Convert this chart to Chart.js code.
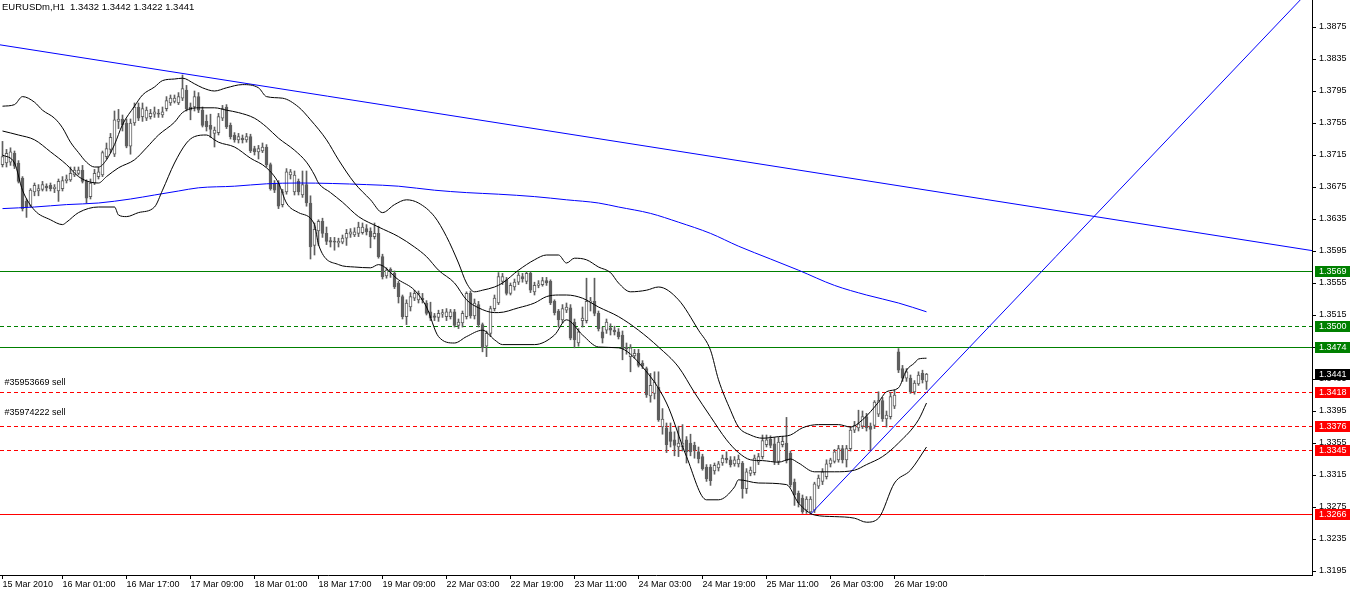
<!DOCTYPE html>
<html>
<head>
<meta charset="utf-8">
<title>EURUSDm,H1</title>
<script src="https://cdn.jsdelivr.net/npm/chart.js@4.4.0/dist/chart.umd.min.js"></script>
<style>
  html, body { margin: 0; padding: 0; background: #fff; overflow: hidden; }
  canvas { display: block; }
</style>
</head>
<body>
<canvas id="priceChart" width="1353" height="595"></canvas>
<script>
// EURUSDm H1 candles, bar index 0 = first visible hour
var symbolTitle = 'EURUSDm,H1  1.3432 1.3442 1.3422 1.3441';

var opens = [
  1.3703,1.3705,1.3706,1.3717,1.3705,1.3686,1.3657,1.3652,1.3669,1.3670,
  1.3672,1.3676,1.3677,1.3673,1.3670,1.3673,1.3683,1.3684,1.3690,1.3692,
  1.3696,1.3682,1.3663,1.3680,1.3688,1.3690,1.3713,1.3722,1.3716,1.3757,
  1.3760,1.3755,1.3726,1.3755,1.3775,1.3763,1.3761,1.3763,1.3766,1.3767,
  1.3765,1.3773,1.3780,1.3782,1.3780,1.3786,1.3796,1.3775,1.3775,1.3788,
  1.3771,1.3757,1.3752,1.3742,1.3743,1.3761,1.3775,1.3752,1.3740,1.3734,
  1.3736,1.3734,1.3738,1.3723,1.3719,1.3720,1.3725,1.3703,1.3680,1.3680,
  1.3653,1.3669,1.3690,1.3669,1.3682,1.3665,1.3678,1.3655,1.3602,1.3620,
  1.3632,1.3617,1.3608,1.3607,1.3605,1.3606,1.3611,1.3616,1.3615,1.3617,
  1.3618,1.3623,1.3620,1.3613,1.3617,1.3588,1.3564,1.3572,1.3567,1.3555,
  1.3538,1.3513,1.3525,1.3536,1.3534,1.3536,1.3530,1.3519,1.3514,1.3512,
  1.3516,1.3513,1.3513,1.3519,1.3502,1.3505,1.3513,1.3542,1.3514,1.3528,
  1.3503,1.3476,1.3492,1.3523,1.3530,1.3557,1.3559,1.3542,1.3550,1.3556,
  1.3563,1.3557,1.3567,1.3544,1.3552,1.3553,1.3558,1.3557,1.3532,1.3520,
  1.3509,1.3521,1.3524,1.3506,1.3480,1.3508,1.3508,1.3531,1.3532,1.3517,
  1.3494,1.3496,1.3499,1.3496,1.3494,1.3490,1.3475,1.3463,1.3464,1.3467,
  1.3455,1.3448,1.3414,1.3417,1.3425,1.3375,1.3374,1.3369,1.3359,1.3350,
  1.3350,1.3359,1.3355,1.3352,1.3344,1.3338,1.3325,1.3325,1.3320,1.3324,
  1.3330,1.3336,1.3334,1.3329,1.3329,1.3330,1.3298,1.3317,1.3318,1.3331,
  1.3338,1.3353,1.3360,1.3354,1.3332,1.3353,1.3355,1.3342,1.3306,1.3292,
  1.3286,1.3271,1.3269,1.3271,1.3301,1.3307,1.3313,1.3329,1.3332,1.3334,
  1.3348,1.3334,1.3348,1.3371,1.3374,1.3376,1.3388,1.3376,1.3377,1.3391,
  1.3408,1.3385,1.3388,1.3401,1.3469,1.3448,1.3436,1.3436,1.3419,1.3429,
  1.3442,1.3432
];
var highs = [
  1.3732,1.3722,1.3724,1.3720,1.3708,1.3688,1.3660,1.3673,1.3680,1.3678,
  1.3682,1.3679,1.3680,1.3678,1.3685,1.3688,1.3690,1.3700,1.3700,1.3700,
  1.3702,1.3684,1.3685,1.3697,1.3700,1.3720,1.3730,1.3742,1.3770,1.3772,
  1.3765,1.3760,1.3760,1.3780,1.3780,1.3780,1.3775,1.3772,1.3775,1.3772,
  1.3775,1.3788,1.3790,1.3790,1.3793,1.3815,1.3802,1.3780,1.3795,1.3793,
  1.3775,1.3765,1.3766,1.3750,1.3767,1.3777,1.3778,1.3755,1.3743,1.3742,
  1.3740,1.3742,1.3741,1.3726,1.3727,1.3730,1.3728,1.3705,1.3683,1.3683,
  1.3672,1.3698,1.3697,1.3695,1.3685,1.3695,1.3695,1.3664,1.3630,1.3634,
  1.3636,1.3625,1.3612,1.3612,1.3611,1.3615,1.3622,1.3623,1.3624,1.3631,
  1.3630,1.3628,1.3624,1.3630,1.3626,1.3591,1.3574,1.3574,1.3570,1.3557,
  1.3540,1.3534,1.3543,1.3546,1.3545,1.3542,1.3533,1.3531,1.3517,1.3521,
  1.3522,1.3523,1.3522,1.3522,1.3510,1.3520,1.3544,1.3545,1.3535,1.3532,
  1.3505,1.3495,1.3526,1.3540,1.3568,1.3567,1.3562,1.3555,1.3560,1.3568,
  1.3567,1.3569,1.3569,1.3556,1.3558,1.3562,1.3562,1.3559,1.3534,1.3522,
  1.3528,1.3530,1.3528,1.3510,1.3498,1.3525,1.3561,1.3537,1.3561,1.3520,
  1.3500,1.3510,1.3504,1.3501,1.3498,1.3495,1.3480,1.3478,1.3472,1.3472,
  1.3458,1.3450,1.3442,1.3444,1.3444,1.3398,1.3380,1.3380,1.3369,1.3376,
  1.3378,1.3363,1.3366,1.3356,1.3350,1.3341,1.3328,1.3328,1.3330,1.3332,
  1.3340,1.3344,1.3338,1.3338,1.3340,1.3332,1.3323,1.3325,1.3340,1.3342,
  1.3365,1.3365,1.3364,1.3362,1.3362,1.3363,1.3387,1.3345,1.3310,1.3295,
  1.3290,1.3288,1.3288,1.3306,1.3315,1.3323,1.3334,1.3336,1.3347,1.3352,
  1.3352,1.3352,1.3375,1.3382,1.3396,1.3395,1.3392,1.3380,1.3408,1.3419,
  1.3412,1.3395,1.3418,1.3421,1.3473,1.3452,1.3448,1.3440,1.3433,1.3444,
  1.3446,1.3442
];
var lows = [
  1.3700,1.3700,1.3702,1.3698,1.3680,1.3645,1.3637,1.3650,1.3664,1.3664,
  1.3670,1.3670,1.3670,1.3668,1.3657,1.3670,1.3680,1.3682,1.3688,1.3690,
  1.3680,1.3655,1.3660,1.3678,1.3685,1.3688,1.3710,1.3718,1.3713,1.3748,
  1.3745,1.3724,1.3716,1.3752,1.3758,1.3757,1.3758,1.3760,1.3762,1.3762,
  1.3762,1.3770,1.3777,1.3780,1.3778,1.3783,1.3770,1.3759,1.3770,1.3768,
  1.3750,1.3745,1.3737,1.3725,1.3740,1.3758,1.3748,1.3735,1.3731,1.3730,
  1.3730,1.3731,1.3718,1.3715,1.3710,1.3718,1.3700,1.3671,1.3668,1.3648,
  1.3650,1.3666,1.3685,1.3665,1.3665,1.3662,1.3651,1.3585,1.3590,1.3602,
  1.3612,1.3603,1.3600,1.3596,1.3600,1.3604,1.3602,1.3612,1.3613,1.3613,
  1.3616,1.3615,1.3599,1.3610,1.3586,1.3560,1.3561,1.3562,1.3548,1.3530,
  1.3510,1.3503,1.3520,1.3533,1.3530,1.3530,1.3515,1.3508,1.3508,1.3507,
  1.3512,1.3508,1.3510,1.3500,1.3498,1.3500,1.3510,1.3511,1.3510,1.3500,
  1.3469,1.3463,1.3488,1.3520,1.3528,1.3553,1.3540,1.3540,1.3546,1.3553,
  1.3556,1.3554,1.3543,1.3540,1.3549,1.3551,1.3552,1.3528,1.3515,1.3500,
  1.3505,1.3518,1.3484,1.3474,1.3476,1.3500,1.3505,1.3520,1.3514,1.3495,
  1.3480,1.3492,1.3490,1.3490,1.3485,1.3459,1.3466,1.3444,1.3461,1.3450,
  1.3448,1.3412,1.3406,1.3410,1.3382,1.3366,1.3343,1.3350,1.3339,1.3338,
  1.3345,1.3330,1.3339,1.3336,1.3330,1.3321,1.3307,1.3302,1.3316,1.3320,
  1.3327,1.3330,1.3325,1.3326,1.3325,1.3286,1.3292,1.3314,1.3315,1.3328,
  1.3335,1.3350,1.3349,1.3328,1.3328,1.3350,1.3330,1.3300,1.3277,1.3275,
  1.3267,1.3267,1.3266,1.3268,1.3298,1.3303,1.3310,1.3325,1.3330,1.3331,
  1.3330,1.3325,1.3345,1.3368,1.3370,1.3373,1.3370,1.3346,1.3373,1.3388,
  1.3382,1.3375,1.3385,1.3398,1.3443,1.3432,1.3432,1.3417,1.3416,1.3427,
  1.3430,1.3422
];
var closes = [
  1.3713,1.3717,1.3719,1.3701,1.3682,1.3648,1.3650,1.3671,1.3677,1.3673,
  1.3678,1.3674,1.3673,1.3675,1.3682,1.3683,1.3685,1.3692,1.3696,1.3696,
  1.3682,1.3661,1.3680,1.3692,1.3694,1.3718,1.3723,1.3737,1.3759,1.3760,
  1.3753,1.3726,1.3755,1.3775,1.3761,1.3773,1.3771,1.3767,1.3769,1.3766,
  1.3769,1.3783,1.3786,1.3786,1.3788,1.3798,1.3773,1.3771,1.3788,1.3771,
  1.3752,1.3750,1.3747,1.3746,1.3763,1.3773,1.3750,1.3738,1.3734,1.3738,
  1.3734,1.3738,1.3720,1.3719,1.3723,1.3725,1.3703,1.3673,1.3671,1.3651,
  1.3669,1.3694,1.3694,1.3690,1.3669,1.3678,1.3655,1.3600,1.3622,1.3632,
  1.3617,1.3607,1.3606,1.3606,1.3607,1.3611,1.3617,1.3619,1.3619,1.3625,
  1.3625,1.3619,1.3613,1.3617,1.3588,1.3563,1.3571,1.3569,1.3550,1.3538,
  1.3513,1.3530,1.3538,1.3542,1.3542,1.3534,1.3517,1.3511,1.3512,1.3517,
  1.3518,1.3519,1.3519,1.3502,1.3506,1.3517,1.3542,1.3514,1.3530,1.3503,
  1.3474,1.3492,1.3523,1.3536,1.3563,1.3563,1.3542,1.3552,1.3556,1.3565,
  1.3560,1.3567,1.3546,1.3552,1.3554,1.3558,1.3555,1.3530,1.3518,1.3509,
  1.3523,1.3525,1.3486,1.3484,1.3494,1.3511,1.3532,1.3532,1.3517,1.3498,
  1.3486,1.3506,1.3496,1.3494,1.3488,1.3473,1.3473,1.3474,1.3467,1.3452,
  1.3451,1.3415,1.3427,1.3431,1.3384,1.3385,1.3353,1.3357,1.3352,1.3355,
  1.3355,1.3344,1.3344,1.3346,1.3335,1.3323,1.3310,1.3308,1.3327,1.3329,
  1.3336,1.3334,1.3328,1.3334,1.3335,1.3298,1.3319,1.3321,1.3336,1.3338,
  1.3358,1.3359,1.3352,1.3332,1.3356,1.3357,1.3333,1.3303,1.3290,1.3280,
  1.3269,1.3285,1.3285,1.3304,1.3311,1.3319,1.3329,1.3334,1.3344,1.3348,
  1.3334,1.3348,1.3371,1.3377,1.3379,1.3388,1.3374,1.3372,1.3406,1.3408,
  1.3385,1.3390,1.3413,1.3415,1.3446,1.3436,1.3444,1.3419,1.3430,1.3440,
  1.3434,1.3441
];

// Bollinger bands (bar index, price)
var upperBars = [0,3,5,8,10,13,15,17,19,21,23,24,26,28,30,33,35,38,40,43,45,48,50,53,56,60,64,66,70,74,
  77,81,84,88,92,95,98,101,104,108,111,114,116,118,120,123,125,129,133,136,139,141,143,146,149,152,154,157,161,164,
  169,174,177,179,182,184,187,190,194,197,200,204,209,212,215,219,221,224,226,228,229,231];
var upperValues = [1.3776,1.3778,1.3788,1.3781,1.3771,1.3761,1.3749,1.3731,1.3718,1.3706,1.3700,1.3700,1.3709,1.3728,1.3753,1.3776,1.3790,1.3800,1.3808,1.3810,
  1.3811,1.3804,1.3799,1.3795,1.3799,1.3803,1.3799,1.3788,1.3786,1.3775,1.3759,1.3734,1.3709,1.3680,1.3659,1.3643,1.3653,1.3659,1.3655,1.3638,
  1.3613,1.3580,1.3555,1.3544,1.3546,1.3550,1.3555,1.3571,1.3584,1.3590,1.3590,1.3580,1.3586,1.3584,1.3575,1.3568,1.3555,1.3544,1.3546,1.3550,
  1.3534,1.3496,1.3471,1.3434,1.3396,1.3375,1.3365,1.3361,1.3363,1.3365,1.3374,1.3378,1.3378,1.3375,1.3384,1.3406,1.3419,1.3424,1.3446,1.3455,
  1.3460,1.3461];
var middleBars = [0,4,8,12,16,19,22,24,26,29,33,36,39,43,45,49,53,56,59,63,66,69,73,76,78,79,82,85,89,94,
  99,103,106,109,113,116,119,123,124,129,133,136,139,141,145,149,154,159,164,169,173,177,181,184,187,190,194,197,199,203,
  208,213,216,220,224,229,231];
var middleValues = [1.3745,1.3740,1.3734,1.3719,1.3703,1.3688,1.3681,1.3680,1.3688,1.3699,1.3709,1.3724,1.3740,1.3756,1.3768,1.3774,1.3774,1.3771,1.3768,1.3761,
  1.3750,1.3736,1.3721,1.3706,1.3690,1.3680,1.3668,1.3656,1.3638,1.3625,1.3613,1.3600,1.3588,1.3571,1.3555,1.3534,1.3524,1.3518,1.3518,1.3524,
  1.3530,1.3538,1.3540,1.3540,1.3536,1.3525,1.3513,1.3496,1.3475,1.3450,1.3418,1.3388,1.3359,1.3343,1.3334,1.3333,1.3331,1.3335,1.3330,1.3319,
  1.3319,1.3321,1.3328,1.3338,1.3355,1.3384,1.3405];
var lowerBars = [0,3,5,8,12,15,16,19,24,28,29,31,34,38,40,43,46,48,51,53,54,58,62,66,69,71,74,78,79,84,
  88,92,94,99,103,106,109,113,116,120,123,125,133,138,141,145,149,154,160,166,171,176,179,183,184,189,196,199,203,208,
  213,216,219,223,227,231];
var lowerValues = [1.3715,1.3705,1.3671,1.3646,1.3634,1.3628,1.3631,1.3643,1.3650,1.3650,1.3640,1.3638,1.3643,1.3650,1.3671,1.3705,1.3730,1.3738,1.3740,1.3734,
  1.3731,1.3725,1.3711,1.3699,1.3680,1.3655,1.3643,1.3628,1.3603,1.3578,1.3575,1.3574,1.3578,1.3559,1.3546,1.3525,1.3488,1.3480,1.3488,1.3496,
  1.3484,1.3478,1.3478,1.3490,1.3509,1.3490,1.3475,1.3474,1.3450,1.3405,1.3338,1.3284,1.3284,1.3300,1.3309,1.3305,1.3303,1.3280,1.3265,1.3263,
  1.3261,1.3256,1.3261,1.3305,1.3321,1.3350];

// slow moving average (blue)
var maBars = [0,8,16,24,32,38,44,49,58,66,74,91,99,108,116,124,133,141,149,154,162,169,177,184,192,199,208,216,224,231];
var maValues = [1.3648,1.3650,1.3653,1.3655,1.3660,1.3665,1.3670,1.3674,1.3676,1.3679,1.3680,1.3678,1.3676,1.3671,1.3668,1.3666,1.3663,1.3659,1.3655,1.3650,
  1.3642,1.3631,1.3617,1.3601,1.3585,1.3571,1.3552,1.3540,1.3530,1.3519];

// trend lines: two anchors each (bar, price)
var downTrendBars = [-1, 328];
var downTrendPrices = [1.3853, 1.3595];
var upTrendBars = [202, 330];
var upTrendPrices = [1.3266, 1.3938];

// horizontal levels
var levelPrices = [1.3569, 1.3500, 1.3474, 1.3418, 1.3376, 1.3345, 1.3266];
var bidPrice = 1.3441;

// order comments
var orderTexts = ['#35953669 sell', '#35974222 sell'];
var orderTextPrices = [1.3430, 1.3393];

// axes
var timeLabels = ['15 Mar 2010','16 Mar 01:00','16 Mar 17:00','17 Mar 09:00','18 Mar 01:00','18 Mar 17:00','19 Mar 09:00',
  '22 Mar 03:00','22 Mar 19:00','23 Mar 11:00','24 Mar 03:00','24 Mar 19:00','25 Mar 11:00','26 Mar 03:00','26 Mar 19:00'];
var timeLabelBars = [0,15,31,47,63,79,95,111,127,143,159,175,191,207,223];
var priceTicks = [1.3195,1.3235,1.3275,1.3315,1.3355,1.3395,1.3435,1.3475,1.3515,1.3555,1.3595,1.3635,1.3675,1.3715,1.3755,1.3795,1.3835,1.3875];

// ---- look ----
var GREEN = '#008000', RED = '#ff0000', CANDLE = '#5f5f5f';
var levelLook = [
  { color: GREEN, dashed: false }, { color: GREEN, dashed: true }, { color: GREEN, dashed: false },
  { color: RED, dashed: true }, { color: RED, dashed: true }, { color: RED, dashed: true }, { color: RED, dashed: false }
];
var FONT = '9px "Liberation Sans", Arial, sans-serif';

function points(xs, ys) {
  return xs.map(function (x, i) { return { x: x, y: ys[i] }; });
}

function lineSet(xs, ys, color, order) {
  return {
    type: 'line',
    data: points(xs, ys),
    borderColor: color,
    borderWidth: 1,
    pointRadius: 0,
    cubicInterpolationMode: 'monotone',
    fill: false,
    order: order
  };
}

var wickData = highs.map(function (h, i) { return { x: i, y: [lows[i], h] }; });
var bodyData = opens.map(function (o, i) { return { x: i, y: [o, closes[i]] }; });

// levels behind the candles, price labels on top of the axis
var mt4Plugin = {
  id: 'mt4',
  beforeDatasetsDraw: function (chart) {
    var ctx = chart.ctx, area = chart.chartArea, ys = chart.scales.y;
    ctx.save();
    levelPrices.forEach(function (p, i) {
      var y = Math.floor(ys.getPixelForValue(p));
      ctx.fillStyle = levelLook[i].color;
      if (!levelLook[i].dashed) {
        ctx.fillRect(area.left, y, area.right - area.left, 1);
        return;
      }
      for (var x = area.left; x < area.right; x += 7) {
        ctx.fillRect(x, y, Math.min(4, area.right - x), 1);
      }
    });
    ctx.restore();
  },
  afterDraw: function (chart) {
    var ctx = chart.ctx, ys = chart.scales.y, xs = chart.scales.x;
    ctx.save();
    ctx.textBaseline = 'middle';
    ctx.textAlign = 'left';
    ctx.fillStyle = '#000';
    ctx.font = '9.5px "Liberation Sans", Arial, sans-serif';
    ctx.fillText(symbolTitle, 2, 7);
    ctx.font = FONT;

    orderTexts.forEach(function (t, i) {
      ctx.fillText(t, xs.getPixelForValue(0) + 2, ys.getPixelForValue(orderTextPrices[i]));
    });

    var boxes = levelPrices.map(function (p, i) { return { p: p, c: levelLook[i].color }; });
    boxes.push({ p: bidPrice, c: '#000' });
    boxes.forEach(function (b) {
      var y = Math.floor(ys.getPixelForValue(b.p));
      ctx.fillStyle = b.c;
      ctx.fillRect(ys.left + 3, y - 5, 35, 11);
      ctx.fillStyle = '#fff';
      ctx.fillText(b.p.toFixed(4), ys.left + 7, y + 0.5);
    });
    ctx.restore();
  }
};

var ctx = document.getElementById('priceChart').getContext('2d');
new Chart(ctx, {
  type: 'bar',
  data: {
    datasets: [
      lineSet(upperBars, upperValues, '#000', 0),
      lineSet(middleBars, middleValues, '#000', 0),
      lineSet(lowerBars, lowerValues, '#000', 0),
      lineSet(maBars, maValues, '#0000ff', 0),
      lineSet(downTrendBars, downTrendPrices, '#0000ff', 0),
      lineSet(upTrendBars, upTrendPrices, '#0000ff', 0),
      {
        data: bodyData,
        barThickness: 3,
        minBarLength: 1,
        borderWidth: 1,
        borderSkipped: false,
        borderColor: CANDLE,
        backgroundColor: function (c) {
          var i = c.dataIndex;
          return closes[i] >= opens[i] ? '#ffffff' : CANDLE;
        },
        grouped: false,
        order: 1
      },
      {
        data: wickData,
        barThickness: 1,
        borderWidth: 0,
        backgroundColor: CANDLE,
        grouped: false,
        order: 2
      }
    ]
  },
  options: {
    responsive: false,
    animation: false,
    events: [],
    layout: { padding: 0 },
    plugins: { legend: { display: false }, tooltip: { enabled: false } },
    scales: {
      x: {
        type: 'linear',
        min: -0.625,
        max: 327.375,
        offset: false,
        grid: { offset: false, drawOnChartArea: false, drawTicks: true, tickLength: 4, color: '#000' },
        border: { display: true, color: '#000', width: 1 },
        ticks: {
          autoSkip: false,
          maxRotation: 0,
          align: 'start',
          padding: 0,
          color: '#000',
          font: { family: '"Liberation Sans", Arial, sans-serif', size: 9 },
          callback: function (v) {
            var k = timeLabelBars.indexOf(v);
            return k >= 0 ? timeLabels[k] : '';
          }
        },
        afterBuildTicks: function (s) {
          s.ticks = timeLabelBars.map(function (b) { return { value: b }; });
        },
        afterFit: function (s) {
          s.height = 20;
          s.paddingLeft = 0;
          s.paddingRight = 0;
        }
      },
      y: {
        type: 'linear',
        position: 'right',
        min: 1.3190,
        max: 1.390875,
        grid: { drawOnChartArea: false, drawTicks: true, tickLength: 4, color: '#000' },
        border: { display: true, color: '#000', width: 1 },
        ticks: {
          padding: 3,
          color: '#000',
          font: { family: '"Liberation Sans", Arial, sans-serif', size: 9 },
          callback: function (v) { return v.toFixed(4); }
        },
        afterBuildTicks: function (s) {
          s.ticks = priceTicks.map(function (p) { return { value: p }; });
        },
        afterFit: function (s) {
          s.width = 41;
          s.paddingTop = 0;
          s.paddingBottom = 0;
        }
      }
    }
  },
  plugins: [mt4Plugin]
});
</script>
</body>
</html>
